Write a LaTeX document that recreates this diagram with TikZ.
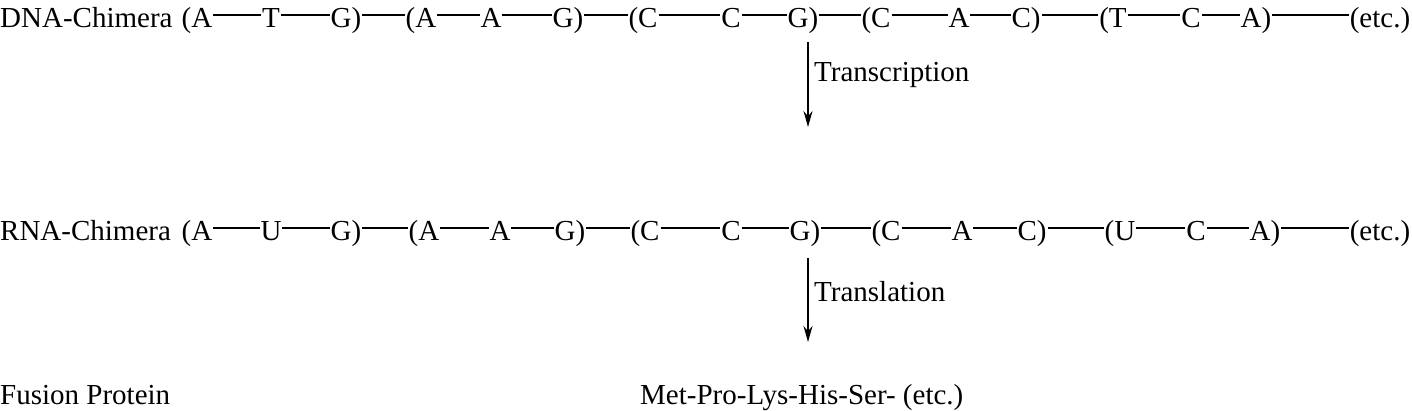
\documentclass[tikz,border=0pt]{standalone}
\usepackage{fontspec}
\setmainfont{Liberation Serif}
\usetikzlibrary{arrows.meta}
\begin{document}
\begin{tikzpicture}[x=1pt,y=-1pt,
  tok/.style={inner sep=0pt,outer sep=1pt,anchor=base,font=\fontsize{29}{34}\selectfont},
  lbl/.style={inner sep=0pt,font=\fontsize{29}{34}\selectfont},
  bond/.style={line width=1.2pt},
  arr/.style={-{Stealth[length=16pt,width=9pt]},line width=1.5pt}]
\useasboundingbox (0,0) rectangle (1412,411);
% row 1
\node[lbl,anchor=base west] (dna) at (0,28) {DNA-Chimera};
\foreach \n/\x/\t in {a1/197/(A,a2/271/T,a3/346/G),a4/421/(A,a5/491/A,a6/568/G),a7/643/(C,a8/731/C,a9/803/G),a10/876/(C,a11/959/A,a12/1026/C),a13/1113/(T,a14/1191/C,a15/1256/A)}
  \node[tok] (\n) at (\x,28) {\t};
\node[tok] (a16) at (1380,28) {(etc.)};
\foreach \i [evaluate=\i as \j using int(\i+1)] in {1,...,15}
  \draw[bond] (a\i.east |- 0,15) -- (a\j.west |- 0,15);
% arrow 1
\coordinate (t1) at (808,42); \coordinate (t2) at (808,127);
\draw[arr] (t1) -- (t2);
\node[lbl,anchor=west] (tr) at (814,75) {Transcription};
% row 2
\node[lbl,anchor=base west] (rna) at (0,241) {RNA-Chimera};
\foreach \n/\x/\t in {b1/197/(A,b2/271/U,b3/346/G),b4/424/(A,b5/500/A,b6/570/G),b7/645/(C,b8/731/C,b9/805/G),b10/886/(C,b11/962/A,b12/1032/C),b13/1120/(U,b14/1196/C,b15/1265/A)}
  \node[tok] (\n) at (\x,241) {\t};
\node[tok] (b16) at (1380,241) {(etc.)};
\foreach \i [evaluate=\i as \j using int(\i+1)] in {1,...,15}
  \draw[bond] (b\i.east |- 0,228) -- (b\j.west |- 0,228);
% arrow 2
\coordinate (s1) at (808,258); \coordinate (s2) at (808,342);
\draw[arr] (s1) -- (s2);
\node[lbl,anchor=west] (tl) at (814,292) {Translation};
% row 3
\node[lbl,anchor=base west] (fp) at (0,404) {Fusion Protein};
\node[lbl,anchor=base west] (mp) at (640,404) {Met-Pro-Lys-His-Ser- (etc.)};
\end{tikzpicture}
\end{document}
